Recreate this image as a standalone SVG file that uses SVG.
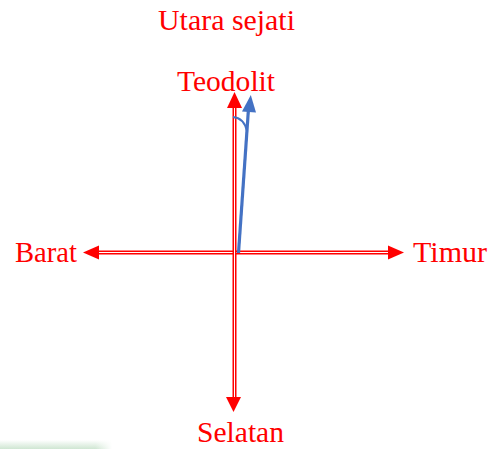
<svg xmlns="http://www.w3.org/2000/svg" width="501" height="449" viewBox="0 0 501 449">
<style>
.lbl{font-family:"Liberation Serif","Times New Roman",serif;font-size:29px;fill:#ff0000}
.axis{stroke:#ff0000;stroke-width:4;fill:none}
.inner{stroke:#ffffff;stroke-width:1;fill:none}
.head{fill:#ff0000}
.blue{stroke:#4472c4;stroke-width:3.2;fill:none}
</style>
<defs>
<linearGradient id="g" x1="0" y1="1" x2="0" y2="0">
<stop offset="0" stop-color="#cfe6d2"/>
<stop offset="1" stop-color="#ffffff"/>
</linearGradient>
<linearGradient id="gh" x1="0" y1="0" x2="1" y2="0">
<stop offset="0" stop-color="#ffffff" stop-opacity="0"/>
<stop offset="0.85" stop-color="#ffffff" stop-opacity="0"/>
<stop offset="1" stop-color="#ffffff" stop-opacity="1"/>
</linearGradient>
</defs>
<rect x="0" y="440" width="112" height="9" fill="url(#g)"/>
<rect x="0" y="440" width="112" height="9" fill="url(#gh)"/>
<g id="connectors">
<line class="axis" x1="99" y1="252.5" x2="388" y2="252.5"/>
<line class="inner" x1="99" y1="252.5" x2="388" y2="252.5"/>
<line class="axis" x1="234.5" y1="107" x2="234.5" y2="397"/>
<line class="inner" x1="234.5" y1="107" x2="234.5" y2="397"/>
<polygon class="head" points="83,252.5 99,245.5 99,259.5"/>
<polygon class="head" points="404,252.5 388,245.5 388,259.5"/>
<polygon class="head" points="234.5,92 227,108 242,108"/>
<polygon class="head" points="233.5,412 226,397 241,397"/>
<line class="blue" x1="238.5" y1="253" x2="248.4" y2="110"/>
<polygon fill="#4472c4" points="250.8,95 242,111.5 256,112.5"/>
<path d="M233,117 Q244,118 247,131" stroke="#4472c4" stroke-width="2" fill="none"/>
</g>
<g id="utara"><text class="lbl" x="158" y="30" textLength="137" lengthAdjust="spacingAndGlyphs">Utara sejati</text></g>
<g id="teodolit"><text class="lbl" x="177" y="91" textLength="98" lengthAdjust="spacingAndGlyphs">Teodolit</text></g>
<g id="barat"><text class="lbl" x="15" y="262" textLength="62" lengthAdjust="spacingAndGlyphs">Barat</text></g>
<g id="timur"><text class="lbl" x="413" y="262" textLength="74" lengthAdjust="spacingAndGlyphs">Timur</text></g>
<g id="selatan"><text class="lbl" x="197" y="442" textLength="87" lengthAdjust="spacingAndGlyphs">Selatan</text></g>
</svg>
